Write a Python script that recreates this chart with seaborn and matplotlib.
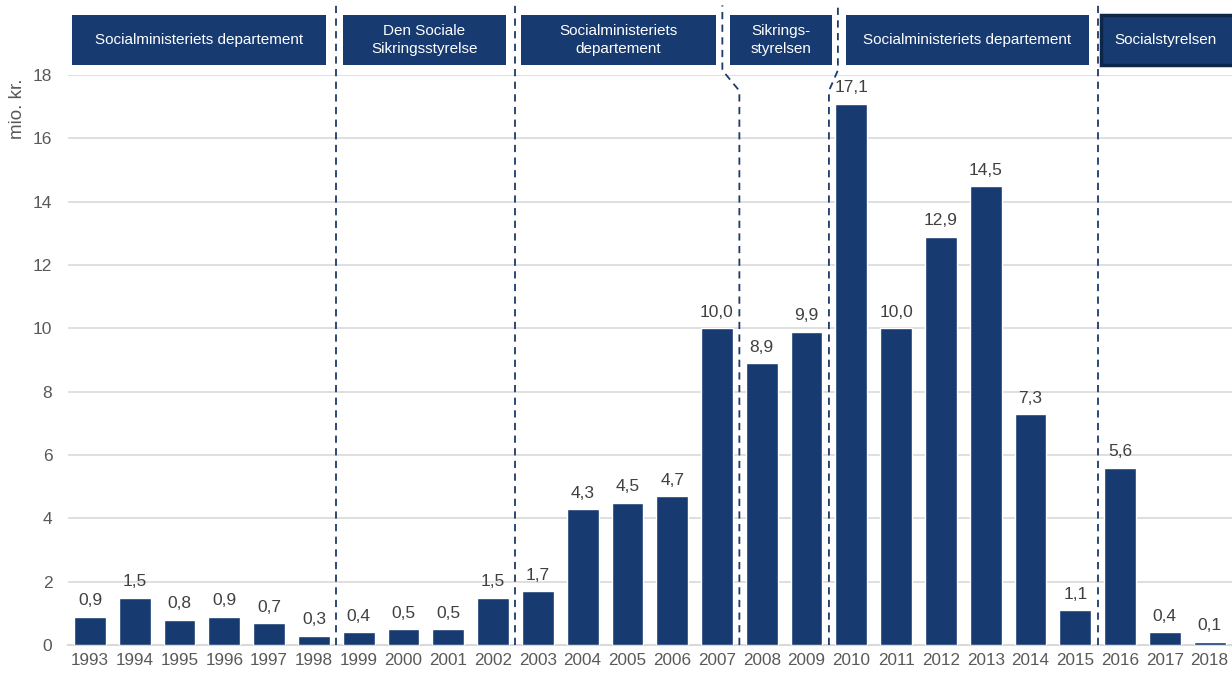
import matplotlib.pyplot as plt
import numpy as np
import pandas as pd
import seaborn as sns
from matplotlib.patches import Rectangle

years = [str(y) for y in range(1993, 2019)]
values = [0.9, 1.5, 0.8, 0.9, 0.7, 0.3, 0.4, 0.5, 0.5, 1.5, 1.7, 4.3, 4.5, 4.7,
          10.0, 8.9, 9.9, 17.1, 10.0, 12.9, 14.5, 7.3, 1.1, 5.6, 0.4, 0.1]

# boundaries between the periods (between bar positions)
boundaries = [5.5, 9.5, 14.5, 16.5, 22.5]
# header boxes: label, left, right (in bar-position units)
headers = ["Socialministeriets departement",
           "Den Sociale\nSikringsstyrelse",
           "Socialministeriets\ndepartement",
           "Sikrings-\nstyrelsen",
           "Socialministeriets departement",
           "Socialstyrelsen"]
header_left = [-0.40, 5.64, 9.63, 14.29, 16.88, 22.57]
header_right = [5.28, 9.30, 13.98, 16.57, 22.31, 25.60]

navy = "#173A70"
grid_col = "#d9d9d9"

df = pd.DataFrame({"year": years, "value": values})

sns.set_style("white")
plt.rcParams["font.family"] = ["Liberation Sans", "DejaVu Sans"]

fig = plt.figure(figsize=(12.32, 6.75), dpi=100)
ax = fig.add_axes([67.6 / 1232, 30 / 675, (1232 - 67.6) / 1232, 570 / 675])

sns.barplot(data=df, x="year", y="value", color=navy, width=0.71,
            saturation=1, ax=ax, zorder=3)

ax.set_xlim(-0.5, 25.5)
ax.set_ylim(0, 18)
ax.set_yticks(np.arange(0, 19, 2))
ax.yaxis.grid(True, color=grid_col, lw=1.2, zorder=0)
ax.set_axisbelow(True)
for s in ["top", "right", "left"]:
    ax.spines[s].set_visible(False)
ax.spines["bottom"].set_color(grid_col)
ax.spines["bottom"].set_linewidth(1.5)
ax.tick_params(axis="y", length=0, pad=11, labelsize=12.5, labelcolor="#595959")
ax.tick_params(axis="x", length=0, pad=6, labelsize=12.3, labelcolor="#595959")
ax.set_xlabel("")
ax.set_ylabel("")

ax.bar_label(ax.containers[0],
             labels=[f"{v:.1f}".replace(".", ",") for v in values],
             padding=6, fontsize=12.5, color="#404040")

fig.text(17 / 1232, 1 - 109 / 675, "mio. kr.", rotation=90, fontsize=13.5,
         color="#595959", ha="center", va="center")

# dashed separators, two of them bend around the header boxes
bends = {14.5: -0.38, 16.5: 0.20}
dash = (0, (4, 3))
for b in boundaries:
    off = bends.get(b, 0.0)
    if off:
        xs = [b, b, b + off, b + off]
        ys = [0, 17.5, 18.15, 20.2]
    else:
        xs = [b, b]
        ys = [0, 20.2]
    ax.plot(xs, ys, ls=dash, color="#1F3A68", lw=1.3, clip_on=False, zorder=4)

# header boxes
for i, (lab, l, r) in enumerate(zip(headers, header_left, header_right)):
    last = i == len(headers) - 1
    rect = Rectangle((l, 18.31), r - l, 19.89 - 18.31, facecolor=navy,
                     edgecolor="#0E2748" if last else navy,
                     lw=2.5 if last else 0, clip_on=False, zorder=5)
    ax.add_patch(rect)
    cx = (l + min(r, 25.45)) / 2
    ax.text(cx, (18.31 + 19.89) / 2, lab, ha="center", va="center",
            color="white", fontsize=11, linespacing=1.35, zorder=6,
            clip_on=False)

fig.savefig("out.png", dpi=100)
